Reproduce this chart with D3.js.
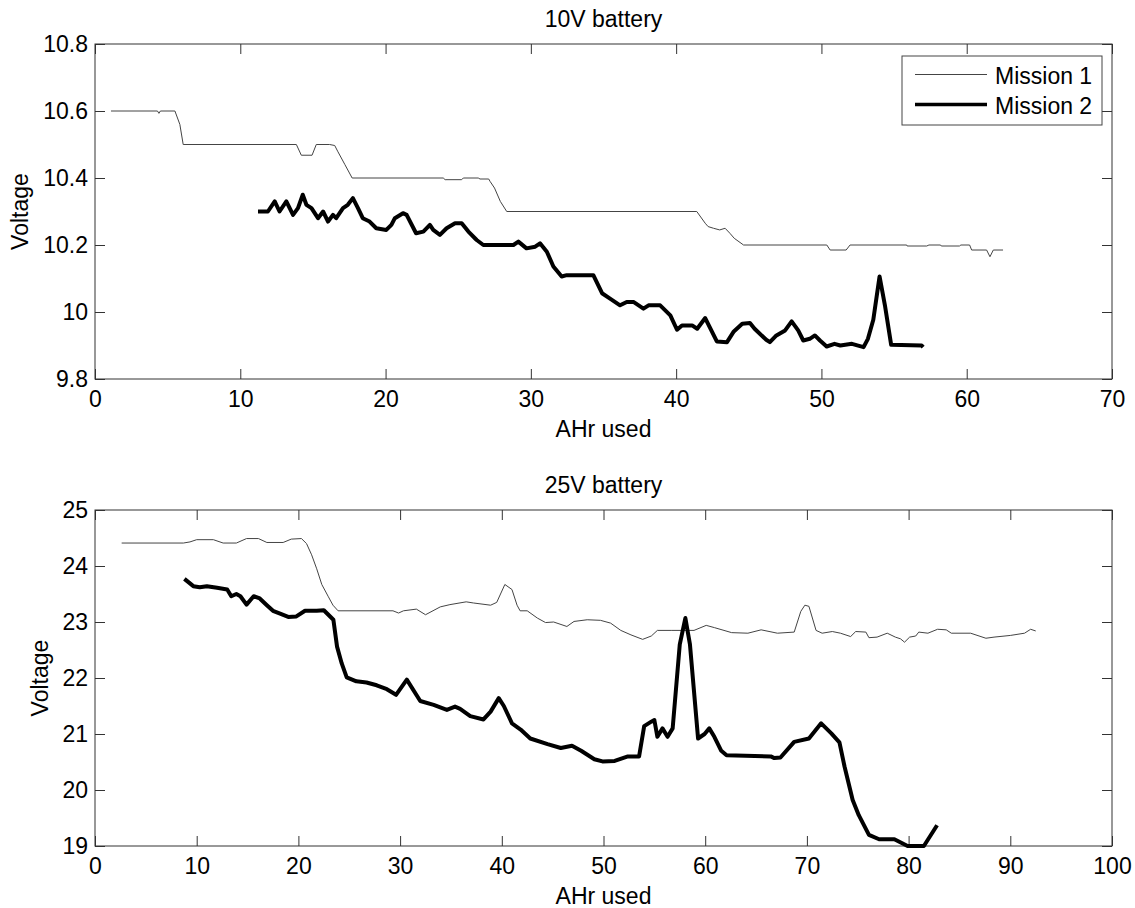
<!DOCTYPE html>
<meta charset="utf-8">
<style>
body { margin: 0; background: #fff; }
svg { font-family: "Liberation Sans", Arial, sans-serif; }
.frame { fill: none; stroke: #333; stroke-width: 1; }
.m1 { fill: none; stroke: #444; stroke-width: 1; }
.m2 { fill: none; stroke: #000; stroke-width: 4; stroke-linejoin: round; }
</style>
<body>
<script src="https://d3js.org/d3.v7.min.js"></script>
<script>

// 10V battery: [AHr used, Voltage]
var mission1_10V = [
  [1.1,10.6],[4.3,10.6],[4.4,10.593],[4.5,10.6],[5.5,10.6],[5.84,10.56],[6.07,10.5],[13.86,10.5],
  [14.2,10.468],[14.94,10.468],[15.23,10.5],[16.15,10.5],[16.5,10.497],[16.7,10.48],[17.2,10.44],
  [17.7,10.4],[23.97,10.4],[24.1,10.395],[25.24,10.395],[25.35,10.4],[26.38,10.4],[26.5,10.397],
  [27.1,10.397],[27.19,10.39],[27.5,10.37],[27.9,10.33],[28.34,10.3],[41.42,10.3],[42.0,10.265],
  [42.2,10.255],[42.57,10.25],[43.0,10.245],[43.37,10.25],[43.7,10.235],[44.0,10.22],[44.64,10.2],
  [50.37,10.2],[50.6,10.185],[51.7,10.185],[51.97,10.2],[55.87,10.2],[55.9,10.197],[57.25,10.197],
  [57.4,10.2],[58.2,10.2],[58.25,10.197],[59.5,10.197],[59.6,10.2],[60.2,10.2],[60.34,10.185],
  [61.37,10.185],[61.6,10.165],[61.83,10.185],[62.5,10.185]
];
var mission2_10V = [
  [11.22,10.30],[11.9,10.30],[12.37,10.33],[12.7,10.30],[13.17,10.33],[13.4,10.31],[13.63,10.29],
  [13.97,10.31],[14.3,10.35],[14.55,10.32],[14.9,10.31],[15.35,10.28],[15.7,10.30],[16.04,10.27],
  [16.38,10.29],[16.6,10.28],[17.07,10.31],[17.4,10.32],[17.75,10.34],[18.1,10.31],[18.43,10.28],
  [18.9,10.27],[19.36,10.25],[20.05,10.245],[20.4,10.26],[20.64,10.28],[21.2,10.295],[21.45,10.29],
  [22.1,10.235],[22.6,10.24],[23.05,10.26],[23.28,10.245],[23.74,10.23],[24.2,10.25],[24.78,10.265],
  [25.24,10.265],[25.7,10.24],[26.27,10.215],[26.73,10.2],[28.8,10.2],[29.14,10.21],[29.7,10.19],
  [30.3,10.195],[30.63,10.205],[31.1,10.18],[31.55,10.136],[32.12,10.106],[32.47,10.11],[34.3,10.11],
  [34.9,10.056],[35.45,10.04],[36.14,10.02],[36.6,10.03],[37.06,10.03],[37.75,10.01],[38.1,10.02],
  [38.9,10.02],[39.6,9.99],[40.06,9.947],[40.4,9.96],[41.1,9.96],[41.45,9.95],[42.0,9.982],
  [42.8,9.912],[43.5,9.91],[43.97,9.942],[44.55,9.965],[45.08,9.967],[45.4,9.95],[46.2,9.917],
  [46.45,9.91],[46.9,9.93],[47.5,9.945],[47.95,9.972],[48.4,9.945],[48.75,9.915],[49.2,9.92],
  [49.55,9.93],[49.9,9.915],[50.36,9.897],[50.9,9.905],[51.3,9.9],[52.1,9.905],[52.9,9.895],
  [53.2,9.92],[53.57,9.977],[54.0,10.106],[54.37,10.02],[54.8,9.902],[56.9,9.9],[57.0,9.895]
];

// 25V battery: [AHr used, Voltage]
var mission1_25V = [
  [2.62,24.41],[8.69,24.41],[9.34,24.43],[10.0,24.47],[11.64,24.47],[12.6,24.41],[13.9,24.41],
  [14.9,24.49],[16.07,24.49],[16.9,24.42],[18.5,24.42],[19.3,24.48],[20.3,24.49],[20.8,24.4],
  [21.3,24.2],[21.8,23.95],[22.3,23.67],[22.95,23.45],[23.4,23.3],[23.9,23.2],[29.3,23.2],
  [29.85,23.16],[30.33,23.2],[31.6,23.23],[32.5,23.13],[33.95,23.27],[34.9,23.31],[36.5,23.36],
  [37.2,23.34],[38.9,23.3],[39.5,23.35],[40.3,23.67],[41.0,23.58],[41.5,23.3],[41.8,23.2],
  [42.5,23.2],[43.5,23.07],[44.3,22.99],[45.1,23.0],[46.4,22.92],[47.1,23.01],[48.4,23.04],
  [49.7,23.03],[50.7,22.98],[51.7,22.85],[52.7,22.77],[53.85,22.69],[54.7,22.75],[55.3,22.85],
  [56.65,22.85],[58.9,22.85],[60.1,22.94],[60.9,22.9],[62.6,22.81],[64.2,22.8],[65.5,22.86],
  [67.1,22.8],[68.75,22.82],[69.4,23.19],[69.8,23.3],[70.2,23.28],[70.9,22.85],[71.5,22.8],
  [72.5,22.83],[73.3,22.8],[74.3,22.74],[74.8,22.83],[75.8,22.82],[76.1,22.72],[76.9,22.73],
  [77.9,22.8],[78.7,22.73],[79.2,22.7],[79.6,22.64],[80.1,22.73],[80.7,22.75],[81.0,22.82],
  [81.9,22.8],[82.85,22.87],[83.7,22.86],[84.2,22.8],[86.1,22.8],[87.6,22.71],[88.4,22.73],
  [90.0,22.76],[91.4,22.8],[92.0,22.87],[92.5,22.84]
];
var mission2_25V = [
  [8.79,23.77],[9.67,23.64],[10.3,23.62],[11.0,23.64],[12.0,23.61],[13.0,23.58],[13.4,23.46],
  [13.9,23.5],[14.3,23.46],[14.9,23.31],[15.6,23.46],[16.2,23.42],[16.9,23.3],[17.5,23.2],
  [18.2,23.15],[19.0,23.09],[19.8,23.1],[20.65,23.2],[21.8,23.2],[22.5,23.21],[23.44,23.04],
  [23.8,22.56],[24.26,22.26],[24.75,22.01],[25.7,21.94],[26.7,21.92],[27.7,21.87],[28.7,21.8],
  [29.6,21.7],[30.66,21.97],[31.98,21.59],[33.3,21.52],[34.6,21.43],[35.4,21.49],[35.9,21.45],
  [36.9,21.32],[38.2,21.26],[38.9,21.4],[39.7,21.64],[40.2,21.5],[41.0,21.19],[41.85,21.08],
  [42.8,20.92],[44.5,20.82],[45.8,20.75],[46.9,20.79],[47.8,20.7],[49.1,20.55],[49.9,20.51],
  [51.1,20.52],[52.4,20.6],[53.5,20.6],[54.0,21.14],[54.7,21.22],[55.0,21.25],[55.3,20.95],
  [55.8,21.1],[56.3,20.95],[56.8,21.1],[57.5,22.6],[58.05,23.07],[58.5,22.6],[59.3,20.92],
  [59.94,21.0],[60.4,21.1],[60.9,20.95],[61.58,20.7],[62.1,20.62],[66.45,20.6],[66.8,20.57],
  [67.4,20.58],[68.75,20.86],[70.2,20.92],[71.4,21.19],[72.4,21.01],[73.2,20.85],[73.7,20.42],
  [74.5,19.82],[75.1,19.55],[76.1,19.2],[77.1,19.12],[78.6,19.12],[79.9,19.0],[81.5,19.0],[82.8,19.37]
];

var xTicksTop = [0, 10, 20, 30, 40, 50, 60, 70];
var yTicksTop = [9.8, 10, 10.2, 10.4, 10.6, 10.8];
var xTicksBottom = [0, 10, 20, 30, 40, 50, 60, 70, 80, 90, 100];
var yTicksBottom = [19, 20, 21, 22, 23, 24, 25];
var seriesNames = ["Mission 1", "Mission 2"];

var fontSize = 23;

var svg = d3.select("body").append("svg")
    .attr("width", 1135)
    .attr("height", 908);

var panels = [
  { title: "10V battery", m1: mission1_10V, m2: mission2_10V,
    xDomain: [0, 70], yDomain: [9.8, 10.8], xTicks: xTicksTop, yTicks: yTicksTop,
    left: 95, right: 1112, top: 44, bottom: 379, ylabelX: 28, legend: true },
  { title: "25V battery", m1: mission1_25V, m2: mission2_25V,
    xDomain: [0, 100], yDomain: [19, 25], xTicks: xTicksBottom, yTicks: yTicksBottom,
    left: 95, right: 1112, top: 510, bottom: 846, ylabelX: 48, legend: false }
];

panels.forEach(function(p) {
  var x = d3.scaleLinear().domain(p.xDomain).range([p.left, p.right]);
  var y = d3.scaleLinear().domain(p.yDomain).range([p.bottom, p.top]);
  var g = svg.append("g");

  // axes, ticks pointing inward like MATLAB
  var fmt = d3.format("");
  function style(sel) {
    sel.select(".domain").remove();
    sel.selectAll("line").attr("stroke", "#333");
    sel.selectAll("text").attr("font-size", fontSize).attr("fill", "#000")
       .attr("font-family", '"Liberation Sans", Arial, sans-serif');
  }
  g.append("g").attr("transform", "translate(0," + p.bottom + ")")
    .call(d3.axisBottom(x).tickValues(p.xTicks).tickFormat(fmt).tickSize(-10).tickPadding(12))
    .call(style);
  g.append("g").attr("transform", "translate(0," + p.top + ")")
    .call(d3.axisTop(x).tickValues(p.xTicks).tickFormat("").tickSize(-10))
    .call(style);
  g.append("g").attr("transform", "translate(" + p.left + ",0)")
    .call(d3.axisLeft(y).tickValues(p.yTicks).tickFormat(fmt).tickSize(-10).tickPadding(7))
    .call(style);
  g.append("g").attr("transform", "translate(" + p.right + ",0)")
    .call(d3.axisRight(y).tickValues(p.yTicks).tickFormat("").tickSize(-10))
    .call(style);

  g.append("rect").attr("class", "frame")
    .attr("x", p.left).attr("y", p.top)
    .attr("width", p.right - p.left).attr("height", p.bottom - p.top);

  var line = d3.line().x(function(d) { return x(d[0]); }).y(function(d) { return y(d[1]); });
  g.append("path").attr("class", "m1").attr("d", line(p.m1));
  g.append("path").attr("class", "m2").attr("d", line(p.m2));

  // labels
  var cx = (p.left + p.right) / 2;
  g.append("text").attr("x", cx).attr("y", p.top - 17)
    .attr("text-anchor", "middle").attr("font-size", fontSize).text(p.title);
  g.append("text").attr("x", cx).attr("y", p.bottom + 58)
    .attr("text-anchor", "middle").attr("font-size", fontSize).text("AHr used");
  g.append("text")
    .attr("transform", "translate(" + p.ylabelX + "," + (p.top + p.bottom) / 2 + ") rotate(-90)")
    .attr("text-anchor", "middle").attr("font-size", fontSize).text("Voltage");

  if (p.legend) {
    var lg = g.append("g").attr("transform", "translate(" + (p.right - 210) + "," + (p.top + 12) + ")");
    lg.append("rect").attr("width", 200).attr("height", 69)
      .attr("fill", "#fff").attr("stroke", "#444");
    seriesNames.forEach(function(name, i) {
      var ly = 18.5 + i * 30;
      lg.append("line").attr("x1", 13).attr("x2", 85).attr("y1", ly).attr("y2", ly)
        .attr("class", i === 0 ? "m1" : "m2").style("stroke-width", i === 0 ? 1 : 3.5);
      lg.append("text").attr("x", 93).attr("y", ly + 9.5)
        .attr("font-size", fontSize).text(name);
    });
  }
});

</script>
</body>
